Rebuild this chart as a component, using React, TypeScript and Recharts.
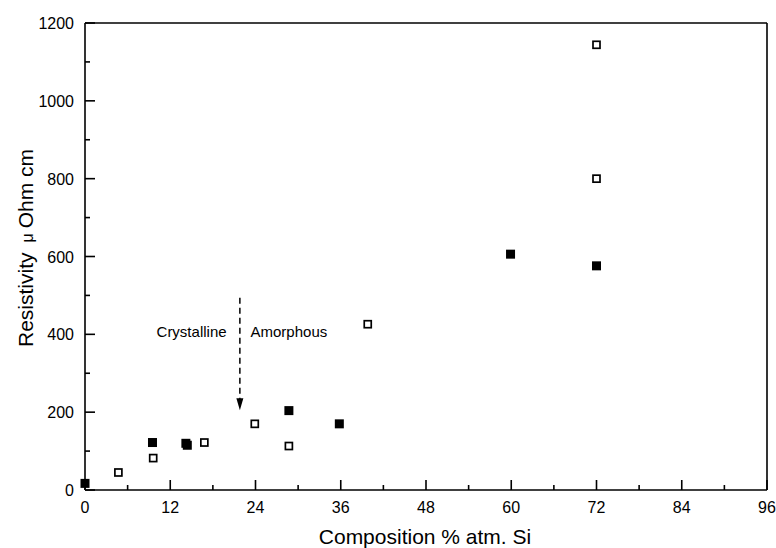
import React from 'react';
import {
  ScatterChart,
  Scatter,
  XAxis,
  YAxis,
  ReferenceLine,
  ReferenceDot,
} from 'recharts';

// composition (% atm. Si) and resistivity (µOhm cm)
const FILLED_X = [0, 9.5, 14.2, 14.4, 28.7, 35.8, 59.9, 72];
const FILLED_Y = [17, 122, 120, 115, 204, 170, 606, 576];
const OPEN_X = [4.7, 9.6, 16.8, 23.9, 28.7, 39.8, 72, 72];
const OPEN_Y = [45, 82, 122, 170, 113, 426, 800, 1144];

const X_TICKS = [0, 6, 12, 18, 24, 30, 36, 42, 48, 54, 60, 66, 72, 78, 84, 90, 96];
const Y_TICKS = [0, 100, 200, 300, 400, 500, 600, 700, 800, 900, 1000, 1100, 1200];

const TRANSITION_X = 21.8;

const filled = FILLED_X.map((x, i) => ({ x, y: FILLED_Y[i] }));
const open = OPEN_X.map((x, i) => ({ x, y: OPEN_Y[i] }));

const FONT = '"Liberation Sans", Arial, sans-serif';
const MAJOR = 10;
const MINOR = 5;

const BottomTick = ({ x, y, payload }: any) => {
  const major = payload.value % 12 === 0;
  return (
    <g>
      <line x1={x} x2={x} y1={y} y2={y - (major ? MAJOR : MINOR)} stroke="#000" strokeWidth={1.6} />
      {major && (
        <text x={x} y={y + 23} textAnchor="middle" fontSize={16} fontFamily={FONT} fill="#000">
          {payload.value}
        </text>
      )}
    </g>
  );
};

const TopTick = ({ x, y, payload }: any) => {
  const major = payload.value % 12 === 0;
  return <line x1={x} x2={x} y1={y} y2={y + (major ? MAJOR : MINOR)} stroke="#000" strokeWidth={1.6} />;
};

const LeftTick = ({ x, y, payload }: any) => {
  const major = payload.value % 200 === 0;
  return (
    <g>
      <line x1={x} x2={x + (major ? MAJOR : MINOR)} y1={y} y2={y} stroke="#000" strokeWidth={1.6} />
      {major && (
        <text x={x - 11} y={y + 6} textAnchor="end" fontSize={16} fontFamily={FONT} fill="#000">
          {payload.value}
        </text>
      )}
    </g>
  );
};

const RightTick = ({ x, y, payload }: any) => {
  const major = payload.value % 200 === 0;
  return <line x1={x} x2={x - (major ? MAJOR : MINOR)} y1={y} y2={y} stroke="#000" strokeWidth={1.6} />;
};

const OpenSquare = ({ cx, cy }: any) => (
  <rect x={cx - 3.5} y={cy - 3.5} width={7} height={7} fill="#fff" stroke="#000" strokeWidth={1.7} />
);

const FilledSquare = ({ cx, cy }: any) => (
  <rect x={cx - 4.5} y={cy - 4.5} width={9} height={9} fill="#000" />
);

const ArrowHead = ({ cx, cy }: any) => (
  <path d={`M${cx - 3.5},${cy - 12}L${cx + 3.5},${cy - 12}L${cx},${cy}Z`} fill="#000" />
);

const Note = (text: string, anchor: 'start' | 'end' | 'middle') => ({ cx, cy }: any) => (
  <text x={cx} y={cy} textAnchor={anchor} fontSize={15} fontFamily={FONT} fill="#000">
    {text}
  </text>
);

const YTitle = () => (
  <text
    transform="translate(33,248) rotate(-90)"
    textAnchor="middle"
    fontSize={21}
    fontFamily={FONT}
    fill="#000"
  >
    Resistivity
    <tspan fontSize={16} dx={10}>μ</tspan>
    <tspan dx={5}>Ohm cm</tspan>
  </text>
);

const XTitle = () => (
  <text x={425} y={544} textAnchor="middle" fontSize={21} fontFamily={FONT} fill="#000">
    Composition % atm. Si
  </text>
);

export default function App() {
  return (
    <div style={{ position: 'absolute', left: 0, top: 0, width: 776, height: 548, background: '#fff' }}>
      <ScatterChart width={776} height={548} margin={{ top: 22, right: 8, bottom: 57, left: 84 }}>
        <XAxis
          type="number"
          dataKey="x"
          domain={[0, 96]}
          ticks={X_TICKS}
          interval={0}
          height={1}
          tickSize={0}
          tickMargin={0}
          tickLine={false}
          tick={BottomTick}
          axisLine={{ stroke: '#000', strokeWidth: 1.6 }}
          label={XTitle}
        />
        <XAxis
          xAxisId="top"
          orientation="top"
          type="number"
          domain={[0, 96]}
          ticks={X_TICKS}
          interval={0}
          height={1}
          tickSize={0}
          tickMargin={0}
          tickLine={false}
          tick={TopTick}
          axisLine={{ stroke: '#000', strokeWidth: 1.6 }}
        />
        <YAxis
          type="number"
          dataKey="y"
          domain={[0, 1200]}
          ticks={Y_TICKS}
          interval={0}
          width={1}
          tickSize={0}
          tickMargin={0}
          tickLine={false}
          tick={LeftTick}
          axisLine={{ stroke: '#000', strokeWidth: 1.6 }}
          label={YTitle}
        />
        <YAxis
          yAxisId="right"
          orientation="right"
          type="number"
          domain={[0, 1200]}
          ticks={Y_TICKS}
          interval={0}
          width={1}
          tickSize={0}
          tickMargin={0}
          tickLine={false}
          tick={RightTick}
          axisLine={{ stroke: '#000', strokeWidth: 1.6 }}
        />
        <ReferenceLine
          segment={[
            { x: TRANSITION_X, y: 494 },
            { x: TRANSITION_X, y: 232 },
          ]}
          stroke="#000"
          strokeWidth={1.5}
          strokeDasharray="6 4"
        />
        <ReferenceDot x={TRANSITION_X} y={205} shape={ArrowHead} />
        <ReferenceDot x={15} y={394} shape={Note('Crystalline', 'middle')} />
        <ReferenceDot x={23.3} y={394} shape={Note('Amorphous', 'start')} />
        <Scatter data={open} shape={OpenSquare} isAnimationActive={false} />
        <Scatter data={filled} shape={FilledSquare} isAnimationActive={false} />
      </ScatterChart>
    </div>
  );
}
